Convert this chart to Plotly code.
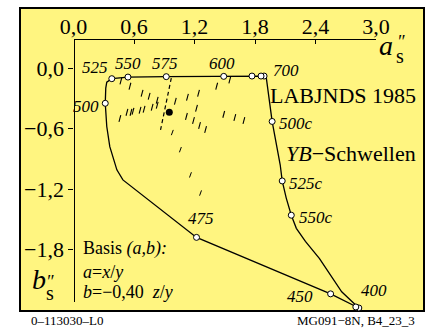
import plotly.graph_objects as go

# outer boundary (transformed spectral locus + purple line), in drawing order
locus_a = [1.91, 1.86, 1.77, 1.49, 0.92, 0.54, 0.38, 0.33, 0.32, 0.315, 0.33, 0.36, 0.43, 0.49,
           1.22, 2.55, 2.83, 2.66, 2.44, 2.30, 2.21, 2.16, 2.11, 2.07, 2.05, 1.97, 1.91]
locus_b = [-0.08, -0.08, -0.08, -0.083, -0.086, -0.09, -0.106, -0.14, -0.20, -0.35, -0.58, -0.78, -1.01, -1.11,
           -1.68, -2.24, -2.38, -2.22, -1.89, -1.72, -1.59, -1.46, -1.29, -1.12, -0.96, -0.53, -0.08]

# labelled wavelength points
wl_names = ["525", "550", "575", "600", "700", "500", "500c", "525c", "550c", "475", "450", "400"]
wl_a = [0.38, 0.54, 0.92, 1.49, 1.89, 0.315, 1.97, 2.07, 2.16, 1.22, 2.55, 2.83]
wl_b = [-0.106, -0.09, -0.086, -0.083, -0.08, -0.35, -0.53, -1.12, -1.46, -1.68, -2.24, -2.38]
# label offsets in pixels (dx, dy)
wl_dx = [-17, 0, -1, -2, 22, -19, 24, 24, 25, 4, -31, 15]
wl_dy = [11, 14, 13, 13, 6, -3, -2, -3, -2, 19, -3, 17]

# extra unlabelled points
extra_a = [1.77, 1.86, 2.80]
extra_b = [-0.08, -0.08, -2.37]

# threshold dashes
dash_a = [0.47, 0.56, 0.68, 0.75, 0.83, 1.01, 1.13, 1.24, 1.22, 1.42, 1.55, 0.46, 0.53, 0.57, 0.59,
          0.66, 0.70, 0.78, 0.83, 1.12, 1.19, 1.25, 1.31, 1.49, 1.60, 1.69]
dash_b = [-0.13, -0.18, -0.25, -0.28, -0.32, -0.33, -0.29, -0.25, -0.40, -0.18, -0.12, -0.50, -0.44, -0.44, -0.43,
          -0.42, -0.41, -0.39, -0.37, -0.48, -0.52, -0.57, -0.61, -0.46, -0.49, -0.52]
dot_a = [0.98, 1.06, 1.16, 1.26]
dot_b = [-0.64, -0.81, -1.06, -1.24]

ref_a = [0.97, 0.86]
ref_b = [-0.10, -0.63]
white_a = [0.95]
white_b = [-0.44]

tick_a = [0.0, 0.6, 1.2, 1.8, 2.4, 3.0]
tick_a_text = ["0,0", "0,6", "1,2", "1,8", "2,4", "3,0"]
tick_b = [0.0, -0.6, -1.2, -1.8]
tick_b_text = ["0,0", "\u22120,6", "\u22121,2", "\u22121,8"]

YELLOW = "#FFF580"
SERIF = "Liberation Serif"


def px(x):
    return (x - 20) / 404


def py(y):
    return (311 - y) / 303


fig = go.Figure()

fig.add_trace(go.Scatter(x=locus_a, y=locus_b, mode="lines",
                         line=dict(color="black", width=1.3), hoverinfo="skip"))
fig.add_trace(go.Scatter(x=ref_a, y=ref_b, mode="lines",
                         line=dict(color="black", width=1.2, dash="4px,3px"), hoverinfo="skip"))
fig.add_trace(go.Scatter(x=dash_a, y=dash_b, mode="markers",
                         marker=dict(symbol="line-ns", size=5, angle=15,
                                     line=dict(color="black", width=1.1)), hoverinfo="skip"))
fig.add_trace(go.Scatter(x=dot_a, y=dot_b, mode="markers",
                         marker=dict(symbol="line-ns", size=4, angle=20,
                                     line=dict(color="black", width=1)), hoverinfo="skip"))
fig.add_trace(go.Scatter(x=white_a, y=white_b, mode="markers",
                         marker=dict(color="black", size=7), hoverinfo="skip"))
fig.add_trace(go.Scatter(x=wl_a + extra_a, y=wl_b + extra_b, mode="markers", cliponaxis=False,
                         marker=dict(color="white", size=6, line=dict(color="black", width=1)),
                         hoverinfo="skip"))

# dummy trace so the visible axis subplot exists
fig.add_trace(go.Scatter(x=[None], y=[None], xaxis="x2", yaxis="y2", hoverinfo="skip"))

for name, a, b, dx, dy in zip(wl_names, wl_a, wl_b, wl_dx, wl_dy):
    fig.add_annotation(x=a, y=b, text="<i>%s</i>" % name, showarrow=False,
                       xshift=dx, yshift=dy, font=dict(family=SERIF, size=17, color="black"))

fig.add_shape(type="rect", xref="paper", yref="paper", x0=0, x1=1, y0=0, y1=1,
              fillcolor=YELLOW, line=dict(color="black", width=2), layer="below")

notes = [
    (418, 95, "LABJNDS 1985", 22, "right"),
    (418, 153, "<i>YB</i>\u2212Schwellen", 22, "right"),
    (81, 248, "Basis <i>(a,b):</i>", 18, "left"),
    (81, 272, "<i>a</i>=<i>x</i>/<i>y</i>", 18, "left"),
    (81, 292, "<i>b</i>=\u22120,40  <i>z</i>/<i>y</i>", 18, "left"),
    (386, 45, "<i>a</i>", 28, "center"),
    (401, 42, "<i>\u2033</i>", 18, "center"),
    (400, 56, "s", 20, "center"),
    (39, 279, "<i>b</i>", 28, "center"),
    (50, 282, "<i>\u2033</i>", 18, "center"),
    (50, 293, "s", 20, "center"),
    (29, 320, "0\u2013113030\u2013L0", 13, "left"),
    (417, 320, "MG091\u22128N, B4_23_3", 13, "right"),
]
for x, y, t, s, anc in notes:
    fig.add_annotation(xref="paper", yref="paper", x=px(x), y=py(y), text=t, showarrow=False,
                       xanchor=anc, yanchor="middle", font=dict(family=SERIF, size=s, color="black"))

fig.update_layout(
    width=435, height=331, autosize=False,
    margin=dict(l=20, r=11, t=8, b=20, autoexpand=False),
    paper_bgcolor="white", plot_bgcolor="rgba(0,0,0,0)",
    showlegend=False,
    xaxis=dict(visible=False, range=[-0.5306, 3.4762]),
    yaxis=dict(visible=False, range=[-2.410, 0.595]),
    xaxis2=dict(domain=[px(73.5), px(376)], range=[0, 3.0], side="top", anchor="free", position=py(39),
                showline=True, linecolor="black", linewidth=1.2, ticks="inside", ticklen=4,
                tickcolor="black", tickvals=tick_a, ticktext=tick_a_text, showgrid=False, zeroline=False,
                ticklabelstandoff=-4,
                tickfont=dict(family=SERIF, size=22, color="black")),
    yaxis2=dict(domain=[py(302), py(39)], range=[-2.3207, 0.2876], anchor="free", position=px(73.5),
                showline=True, linecolor="black", linewidth=1.2, ticks="outside", ticklen=5,
                tickcolor="black", tickvals=tick_b, ticktext=tick_b_text, showgrid=False, zeroline=False,
                tickfont=dict(family=SERIF, size=22, color="black")),
)

fig.write_html("out.html", config={"displayModeBar": False},
               post_script="document.body.style.margin='0';document.body.style.overflow='hidden';")
